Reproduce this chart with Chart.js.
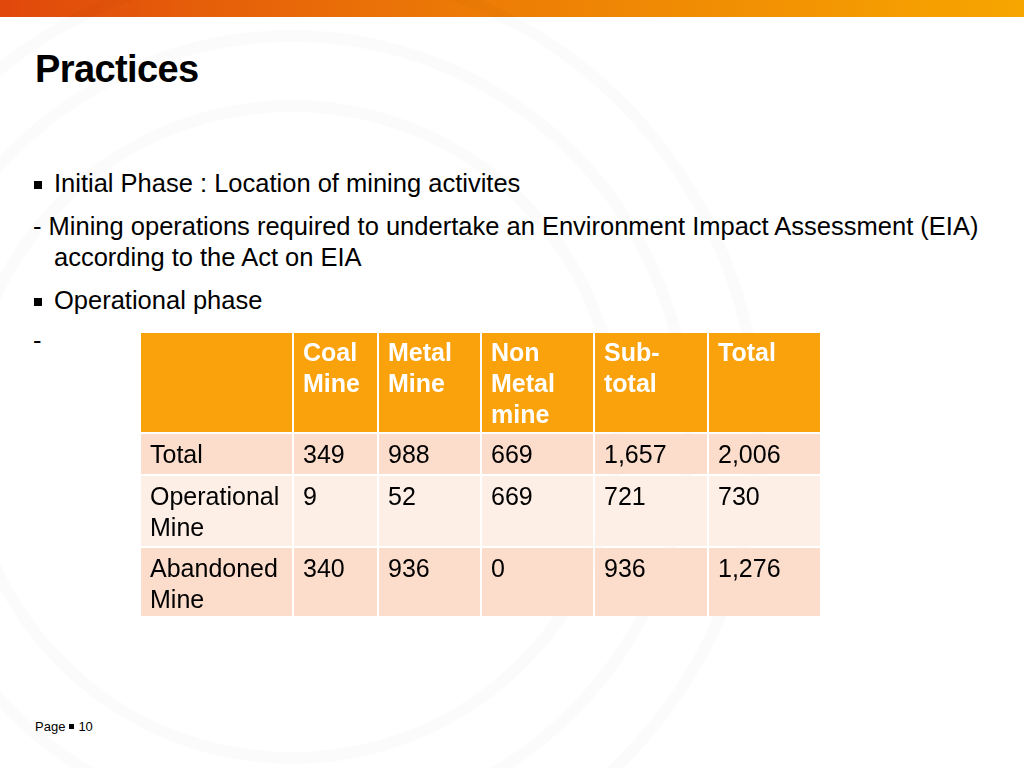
<!DOCTYPE html>
<html>
<head>
<meta charset="utf-8">
<script src="https://cdn.jsdelivr.net/npm/chart.js@4.4.0/dist/chart.umd.min.js"></script>
<style>
    html, body { margin: 0; padding: 0; }
    body {
        width: 1024px; height: 768px; position: relative; overflow: hidden;
        background: #fff; font-family: "Liberation Sans", Arial, sans-serif; color: #000;
    }
    .topbar {
        position: absolute; left: 0; top: 0; width: 1024px; height: 17px;
        background: linear-gradient(to right, #e0480c 0%, #ec7a06 45%, #f7a600 100%);
    }
    .ring {
        position: absolute; border-radius: 50%;
        border: 12px solid rgba(0, 0, 0, 0.016);
    }
    .title {
        position: absolute; left: 35px; top: 48px; font-size: 38px; font-weight: bold;
        letter-spacing: -0.6px;
    }
    .line { position: absolute; font-size: 25.5px; white-space: nowrap; }
    .bullet::before {
        content: ""; position: absolute; left: -20px; top: 12px; width: 8px; height: 8px;
        background: #000;
    }
    .footer { position: absolute; left: 35px; top: 719px; font-size: 13px; }
    .footer .sq { display: inline-block; width: 5px; height: 5px; background: #000; margin: 0 4px 2px 4px; }
    #tableWrap { position: absolute; left: 140px; top: 332px; width: 681px; height: 285px; }
</style>
</head>
<body>
<div class="topbar"></div>
<div class="ring" style="left:-40px; top:100px; width:640px; height:640px;"></div>
<div class="ring" style="left:-110px; top:30px; width:780px; height:780px;"></div>
<div class="ring" style="left:-180px; top:-40px; width:920px; height:920px;"></div>

<div class="title">Practices</div>
<div class="line bullet" style="left:54px; top:169px;">Initial Phase : Location of mining activites</div>
<div class="line" style="left:33px; top:212px;">- Mining operations required to undertake an Environment Impact Assessment (EIA)</div>
<div class="line" style="left:54px; top:243px;">according to the Act on EIA</div>
<div class="line bullet" style="left:54px; top:286px;">Operational phase</div>
<div class="line" style="left:33px; top:326px;">-</div>

<div id="tableWrap"><canvas id="mineTable"></canvas></div>

<div class="footer">Page<span class="sq"></span>10</div>

<script>
// Table data
const columnHeaders = [[''], ['Coal', 'Mine'], ['Metal', 'Mine'], ['Non', 'Metal', 'mine'], ['Sub-', 'total'], ['Total']];
const rowLabels = [['Total'], ['Operational', 'Mine'], ['Abandoned', 'Mine']];
const totalMines = [349, 988, 669, 1657, 2006];
const operationalMines = [9, 52, 669, 721, 730];
const abandonedMines = [340, 936, 0, 936, 1276];

// Layout of the grid, in table units (one unit = one pixel of the table box)
const colEdges = [0, 153, 238, 341, 454, 568, 681];
const rowEdges = [0, 101, 143, 215, 285];

const rowValues = [totalMines, operationalMines, abandonedMines];

function drawCell(ctx, sx, sy, c, r, fill) {
    const x0 = sx.getPixelForValue(colEdges[c]) + 1;
    const x1 = sx.getPixelForValue(colEdges[c + 1]) - 1;
    const y0 = sy.getPixelForValue(rowEdges[r]) + 1;
    const y1 = sy.getPixelForValue(rowEdges[r + 1]) - 1;
    ctx.fillStyle = fill;
    ctx.fillRect(x0, y0, x1 - x0, y1 - y0);
    return { x: x0, y: y0 };
}

function drawLines(ctx, lines, x, y) {
    lines.forEach(function(t, i) {
        ctx.fillText(t, x + 9, y + 22 + i * 31);
    });
}

const tablePlugin = {
    id: 'tableGrid',
    afterDraw: function(chart) {
        const ctx = chart.ctx;
        const sx = chart.scales.x;
        const sy = chart.scales.y;
        ctx.save();
        ctx.textBaseline = 'middle';
        ctx.textAlign = 'left';

        // Header row
        ctx.font = 'bold 25px "Liberation Sans", Arial, sans-serif';
        columnHeaders.forEach(function(lines, c) {
            const p = drawCell(ctx, sx, sy, c, 0, '#f9a20c');
            ctx.fillStyle = '#ffffff';
            drawLines(ctx, lines, p.x, p.y - 1);
        });

        // Body rows
        ctx.font = '25px "Liberation Sans", Arial, sans-serif';
        rowLabels.forEach(function(label, r) {
            const fill = r % 2 === 0 ? '#fcdcca' : '#fdeee6';
            const p = drawCell(ctx, sx, sy, 0, r + 1, fill);
            ctx.fillStyle = '#000';
            drawLines(ctx, label, p.x, p.y);
            rowValues[r].forEach(function(v, c) {
                const q = drawCell(ctx, sx, sy, c + 1, r + 1, fill);
                ctx.fillStyle = '#000';
                drawLines(ctx, [v.toLocaleString('en-US')], q.x, q.y);
            });
        });
        ctx.restore();
    }
};

new Chart(document.getElementById('mineTable').getContext('2d'), {
    type: 'scatter',
    data: { datasets: [{ data: [] }] },
    options: {
        responsive: true,
        maintainAspectRatio: false,
        animation: false,
        layout: { padding: 0 },
        plugins: { legend: { display: false }, tooltip: { enabled: false } },
        scales: {
            x: { type: 'linear', display: false, min: 0, max: 681 },
            y: { type: 'linear', display: false, min: 0, max: 285, reverse: true }
        }
    },
    plugins: [tablePlugin]
});
</script>
</body>
</html>
